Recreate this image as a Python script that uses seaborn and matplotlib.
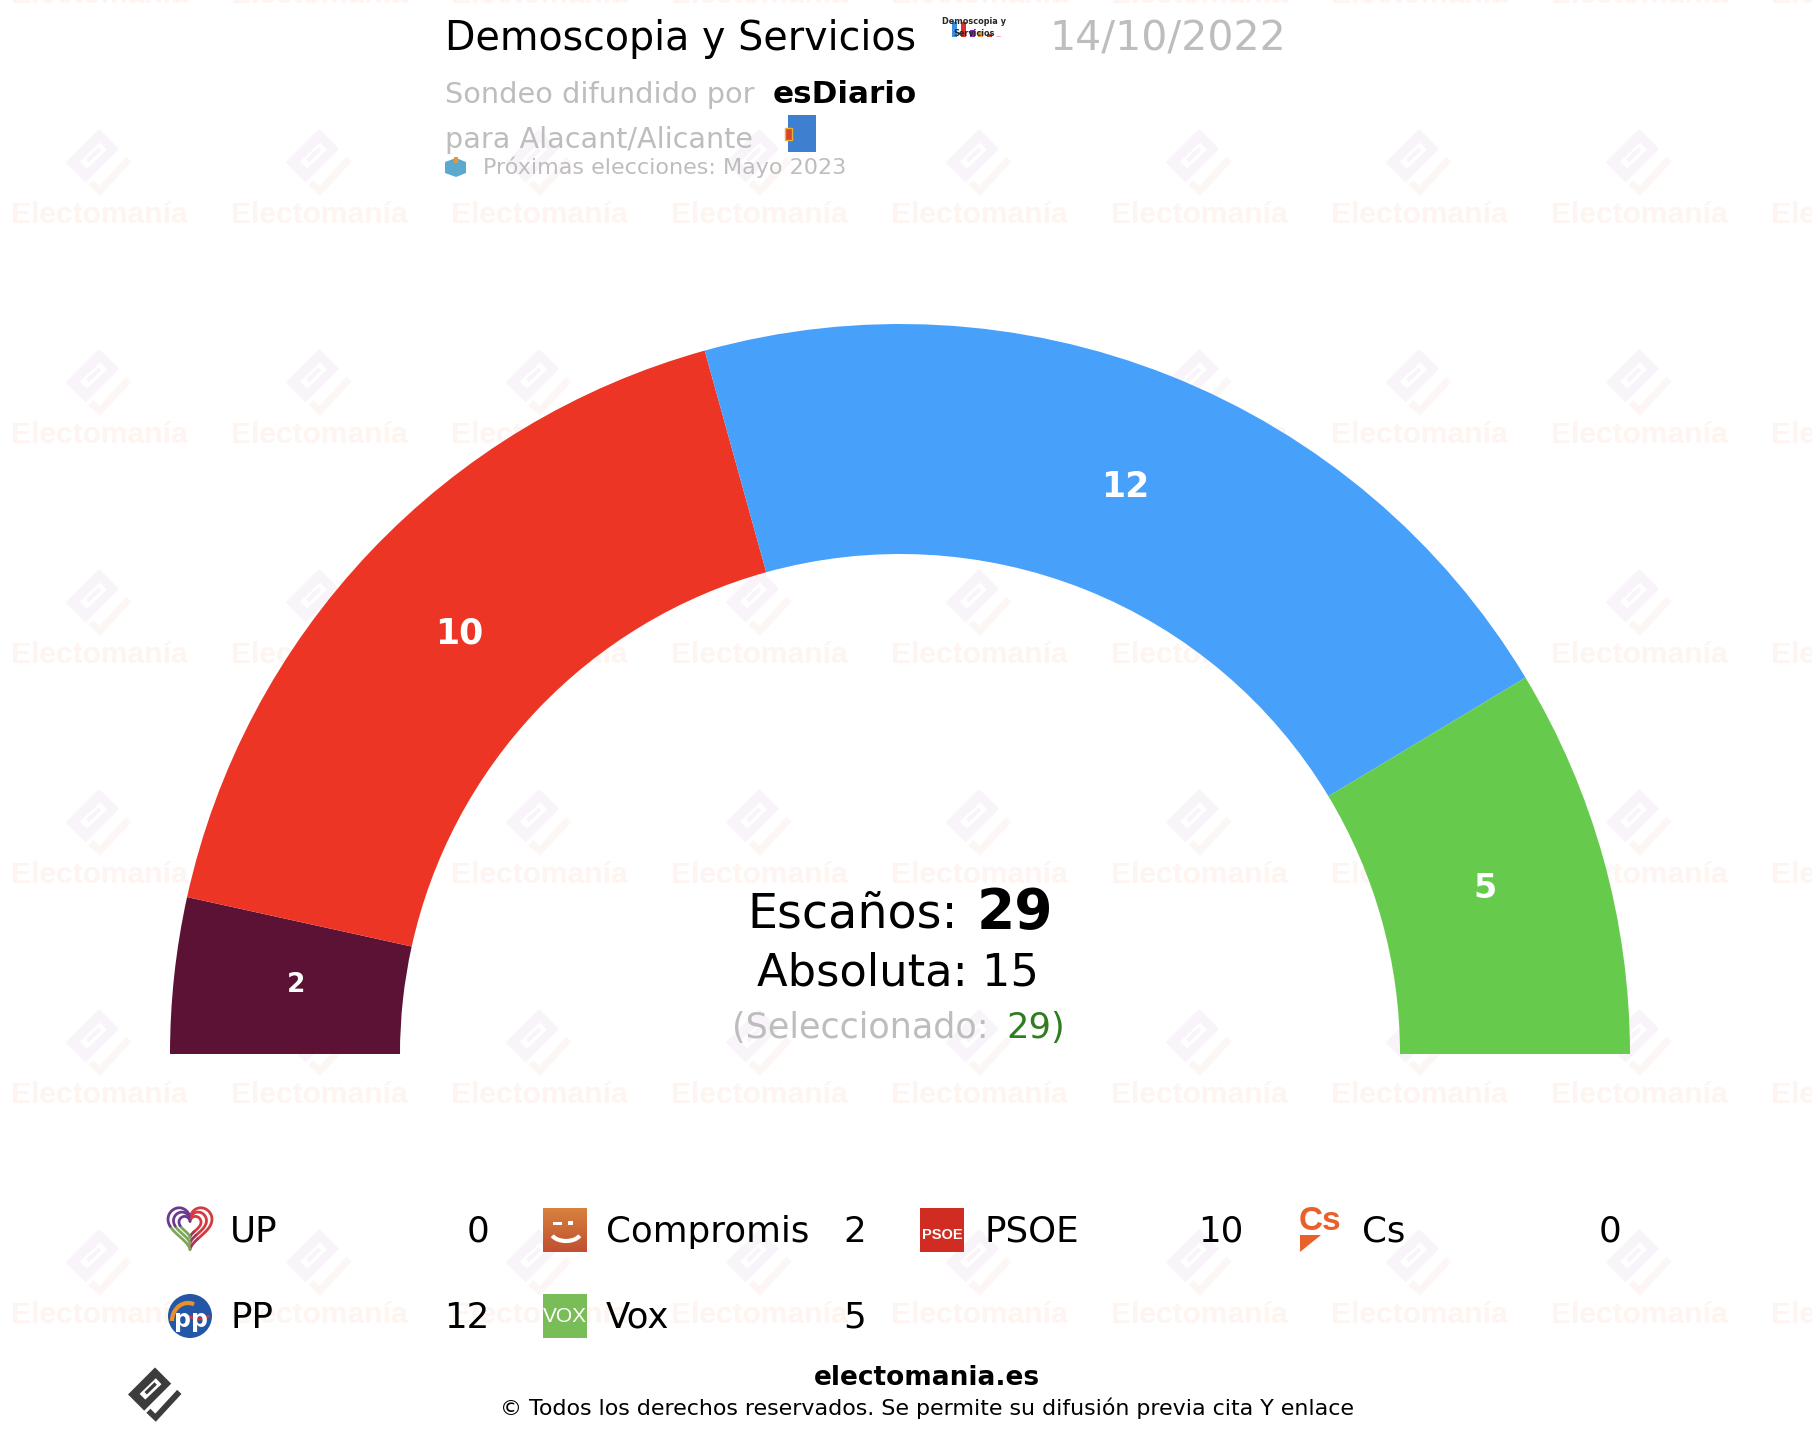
import numpy as np
import matplotlib
matplotlib.use("Agg")
import matplotlib.pyplot as plt
from matplotlib.patches import Polygon, Rectangle, Circle, Arc
import seaborn as sns

# =========================================
# DATA
# =========================================

parties = ["UP", "Compromis", "PSOE", "Cs", "PP", "Vox"]
party_seats = [0, 2, 10, 0, 12, 5]

arc_parties = ["Compromis", "PSOE", "PP", "Vox"]
arc_seats = [2, 10, 12, 5]
arc_colors = ["#5b1235", "#ec3524", "#47a0f9", "#66cb4d"]
arc_label_sizes = [19, 25, 25, 24]

total_seats = 29
majority = 15
selected = 29

pollster = "Demoscopia y Servicios"
poll_date = "14/10/2022"
media = "esDiario"
place = "para Alacant/Alicante"
next_vote = "Próximas elecciones: Mayo 2023"

GREY = "#bdbdbd"
W, H = 1812, 1438

sns.set_theme(style="white")
plt.rcParams["font.family"] = ["DejaVu Sans"]

fig = plt.figure(figsize=(W / 100, H / 100), dpi=100, facecolor="white")


def full_axes(flip=True):
    a = fig.add_axes([0, 0, 1, 1])
    a.set_xlim(0, W)
    a.set_ylim(H, 0) if flip else a.set_ylim(0, H)
    a.axis("off")
    a.patch.set_alpha(0)
    return a


# =========================================
# WATERMARK
# =========================================

bg = full_axes()

LOGO_RING = [(0, -102), (60, -42), (-40, 58), (-100, -2)]
LOGO_HOLE = [(3, -62), (24, -40), (-36, 17), (-57, -4)]
LOGO_BAR = [(-2, -47), (7, -38), (-30, -2), (-39, -11)]
LOGO_TAIL = [(82, -19), (98, -4), (3, 99), (-32, 66), (-17, 51), (1, 69)]


def draw_logo(a, cx, cy, scale, ring, tail, hole="white"):
    for pts, col in [(LOGO_RING, ring), (LOGO_HOLE, hole), (LOGO_BAR, ring), (LOGO_TAIL, tail)]:
        xy = [(cx + p[0] * scale, cy + p[1] * scale) for p in pts]
        a.add_patch(Polygon(xy, closed=True, fc=col, ec="none"))


for col_x in range(99, W + 120, 220):
    for row_y in range(-57, H + 120, 220):
        draw_logo(bg, col_x, row_y, 1 / 3, "#f8f4f9", "#fcf7f4")
        bg.text(col_x, row_y + 60, "Electomanía", family="Liberation Sans", weight="bold",
                fontsize=21.6, color="#fef4f0", ha="center", va="baseline", clip_on=True)

# =========================================
# SEMICIRCLE
# =========================================

mid = full_axes(flip=False)
values = arc_seats + [sum(arc_seats)]
colors = list(sns.color_palette(arc_colors)) + ["none"]


def seat_label(pct):
    n = int(round(pct * sum(values) / 100))
    return str(n) if pct < 50 else ""


wedges, _, labels = mid.pie(
    values,
    colors=colors,
    startangle=180,
    counterclock=False,
    center=(900, H - 1054),
    radius=730,
    frame=True,
    autopct=seat_label,
    pctdistance=0.832,
    wedgeprops=dict(width=230, linewidth=0),
)
mid.set_xlim(0, W)
mid.set_ylim(0, H)
mid.axis("off")
for lab, size in zip(labels, arc_label_sizes + [10]):
    lab.set(color="white", weight="bold", fontsize=size, ha="center", va="center")
    lab_x, lab_y = lab.get_position()
    lab.set_position((lab_x, lab_y + 3))

# =========================================
# TEXT
# =========================================

ax = full_axes()

ax.text(445, 50, pollster, fontsize=28.5, color="black", va="baseline")
ax.text(1049, 50, poll_date, fontsize=29.5, color=GREY, va="baseline")
ax.text(445, 103, "Sondeo difundido por", fontsize=20.7, color=GREY, va="baseline")
ax.text(773, 103, media, fontsize=22.3, color="black", weight="bold", va="baseline")
ax.text(445, 148, place, fontsize=20.6, color=GREY, va="baseline")
ax.text(483, 174, next_vote, fontsize=16, color=GREY, va="baseline")

ax.text(747, 928, "Escaños:", fontsize=34.3, color="black", ha="left", va="baseline")
ax.text(977, 928, str(total_seats), fontsize=39.5, weight="bold", color="black", ha="left", va="baseline")
ax.text(757, 985, f"Absoluta: {majority}", fontsize=32.2, color="black", ha="left", va="baseline")
ax.text(732, 1038, "(Seleccionado:", fontsize=25.2, color=GREY, ha="left", va="baseline")
ax.text(1006, 1038, f"{selected})", fontsize=25.4, color="#2e7d1e", ha="left", va="baseline")

ax.text(927, 1385, "electomania.es", fontsize=19, weight="bold", color="black", ha="center", va="baseline")
ax.text(927, 1415, "© Todos los derechos reservados. Se permite su difusión previa cita Y enlace",
        fontsize=15.9, color="black", ha="center", va="baseline")

draw_logo(ax, 155, 1395, 0.27, "#3c3c3c", "#3c3c3c")

# =========================================
# SMALL ICONS
# =========================================


def gradient_box(x0, x1, y0, y1, top, bottom):
    rgb = np.array([matplotlib.colors.to_rgb(top), matplotlib.colors.to_rgb(bottom)])
    grad = rgb[0] + (rgb[1] - rgb[0]) * np.linspace(0, 1, 40)[:, None]
    ax.imshow(grad[:, None, :], extent=(x0, x1, y1, y0), aspect="auto", zorder=2)


def up_icon(x, y):
    t = np.linspace(0, 2 * np.pi, 121)
    hx = np.sin(t) ** 3
    hy = -(13 * np.cos(t) - 5 * np.cos(2 * t) - 2 * np.cos(3 * t) - np.cos(4 * t)) / 16
    for k in [22, 16.5, 11]:
        px = x + hx * k
        py = y - 5 + hy * k * 1.05
        ax.plot(px[:46], py[:46], color="#d43a40", lw=2, zorder=2)
        ax.plot(px[45:61], py[45:61], color="#a03858", lw=2, zorder=2)
        ax.plot(px[60:86], py[60:86], color="#7aa858", lw=2, zorder=2)
        ax.plot(px[85:], py[85:], color="#6b3a8c", lw=2, zorder=2)


def compromis_icon(x, y):
    gradient_box(x - 22, x + 22, y - 22, y + 22, "#d6823c", "#c24f32")
    ax.add_patch(Arc((x + 1, y + 2), 30, 18, theta1=15, theta2=165, ec="white", lw=3, zorder=3))
    ax.add_patch(Rectangle((x - 12, y - 8), 9, 3, fc="white", ec="none", zorder=3))
    ax.add_patch(Rectangle((x + 3, y - 9), 5, 4, fc="white", ec="none", zorder=3))


def psoe_icon(x, y):
    ax.add_patch(Rectangle((x - 22, y - 22), 44, 44, fc="#d02c22", ec="none", zorder=2))
    ax.text(x, y + 5, "PSOE", family="Liberation Sans", weight="bold", color="white",
            fontsize=10.5, ha="center", va="center", zorder=3)


def cs_icon(x, y):
    ax.text(x, y - 9, "Cs", family="Liberation Sans", weight="bold", color="#e9602b",
            fontsize=24, ha="center", va="center", zorder=3)
    ax.add_patch(Polygon([(x - 20, y + 5), (x + 1, y + 5), (x - 20, y + 22)], fc="#e9602b", ec="none", zorder=3))


def pp_icon(x, y):
    ax.add_patch(Circle((x, y), 22, fc="#2356a5", ec="none", zorder=2))
    ax.add_patch(Arc((x - 2, y + 5), 32, 36, theta1=180, theta2=290, ec="#e8902c", lw=3, zorder=3))
    ax.add_patch(Arc((x + 9, y - 4), 24, 14, theta1=20, theta2=160, ec="#d8342c", lw=2, zorder=3))
    ax.text(x + 1, y + 4, "pp", weight="bold", color="white", fontsize=17, ha="center", va="center", zorder=4)


def vox_icon(x, y):
    ax.add_patch(Rectangle((x - 22, y - 22), 44, 44, fc="#78bd57", ec="none", zorder=2))
    ax.text(x, y, "VOX", family="Liberation Sans", color="white", fontsize=15,
            ha="center", va="center", zorder=3)


icon_funcs = [up_icon, compromis_icon, psoe_icon, cs_icon, pp_icon, vox_icon]

# =========================================
# LEGEND
# =========================================

icon_x = [190, 565, 942, 1320]
name_x = [230, 606, 984, 1362]
value_x = [489, 866, 1244, 1621]
icon_y = [1230, 1316]
base_y = [1242, 1328]

for i, (name, seats) in enumerate(zip(parties, party_seats)):
    col = i % 4
    row = i // 4
    icon_funcs[i](icon_x[col], icon_y[row])
    ax.text(name_x[col], base_y[row], name, fontsize=25.7, color="black", va="baseline")
    ax.text(value_x[col], base_y[row], str(seats), fontsize=25.7, color="black", ha="right", va="baseline")

# header icons
for bx, bh, bc in [(952, 15, "#3f8fe0"), (961, 15, "#d8342c"), (970, 7, "#7a2bb0"),
                   (978, 6, "#e8a03c"), (987, 3, "#c8342c"), (996, 1, "#f0b0e0")]:
    ax.add_patch(Rectangle((bx, 37 - bh), 5, bh, fc=bc, ec="none", zorder=2))
ax.text(974, 21, "Demoscopia y", fontsize=5.9, weight="bold", ha="center", va="center", zorder=3)
ax.text(974, 33, "Servicios", fontsize=5.9, weight="bold", ha="center", va="center", zorder=3)

ax.add_patch(Rectangle((788, 115), 28, 37, fc="#3f7fd0", ec="none", zorder=2))
ax.add_patch(Rectangle((785, 128), 7, 12, fc="#d8452c", ec="#e8b030", lw=1, zorder=3))

ax.add_patch(Polygon([(445, 162), (456, 158), (466, 162), (466, 173), (456, 177), (445, 173)],
                     fc="#5ba9cf", ec="none", zorder=2))
ax.add_patch(Rectangle((454, 157), 4, 6, fc="#e8973c", ec="none", zorder=3))

ax.set_xlim(0, W)
ax.set_ylim(H, 0)

fig.savefig("out.png", dpi=100)
plt.close(fig)
